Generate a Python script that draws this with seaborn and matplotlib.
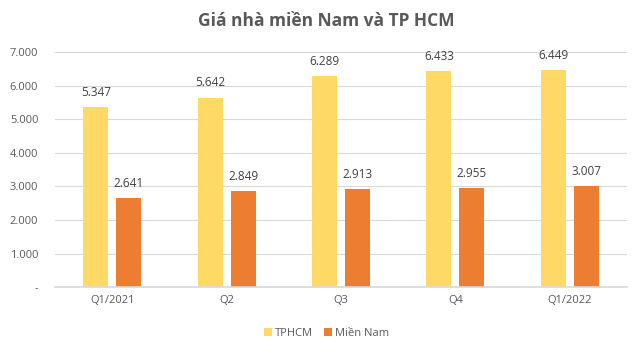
import matplotlib
matplotlib.use("Agg")
import matplotlib.pyplot as plt
import seaborn as sns
import pandas as pd
from matplotlib.ticker import FuncFormatter

quarters = ["Q1/2021", "Q2", "Q3", "Q4", "Q1/2022"]
tphcm = [5347, 5642, 6289, 6433, 6449]
mien_nam = [2641, 2849, 2913, 2955, 3007]
series_names = ["TPHCM", "Miền Nam"]
colors = ["#FFD966", "#ED7D31"]

df = pd.DataFrame({
    "quarter": quarters * 2,
    "value": tphcm + mien_nam,
    "series": [series_names[0]] * len(quarters) + [series_names[1]] * len(quarters),
})

sns.set_theme(style="white")
plt.rcParams["font.family"] = ["Open Sans", "DejaVu Sans"]

fig = plt.figure(figsize=(6.4, 3.51), dpi=100)
ax = fig.add_axes([55 / 640, 0.182, 572 / 640, 0.670])

sns.barplot(data=df, x="quarter", y="value", hue="series", palette=colors,
            width=0.577, gap=0.24, ax=ax, legend=True, saturation=1, linewidth=0)

def fmt(v):
    return f"{int(round(v)):,}".replace(",", ".")

for cont in ax.containers:
    labels = [fmt(b.get_height()) for b in cont]
    ax.bar_label(cont, labels=labels, padding=6, fontsize=8.5, color="#404040")

ax.set_ylim(0, 7000)
ax.set_yticks(range(0, 7001, 1000))
ax.yaxis.set_major_formatter(FuncFormatter(lambda v, p: "-" if v == 0 else fmt(v)))
ax.grid(axis="y", color="#D9D9D9", linewidth=0.8)
ax.set_axisbelow(True)
for s in ["top", "right", "left"]:
    ax.spines[s].set_visible(False)
ax.spines["bottom"].set_color("#D9D9D9")
ax.tick_params(axis="both", labelsize=8, colors="#595959", length=0, pad=6)
ax.tick_params(axis="y", pad=12)
ax.set_xlabel("")
ax.set_ylabel("")
ax.set_xlim(-0.5, 4.5)

leg = ax.legend(loc="upper center", bbox_to_anchor=(0.475, -0.13), ncol=2, frameon=False,
                fontsize=8, handlelength=0.7, handleheight=0.7, handletextpad=0.3,
                columnspacing=1.0, labelcolor="#595959")

fig.suptitle("Giá nhà miền Nam và TP HCM", x=326 / 640, y=0.965, fontsize=12.5,
             fontweight="bold", color="#595959")

fig.savefig("out.png", dpi=100, facecolor="white")
